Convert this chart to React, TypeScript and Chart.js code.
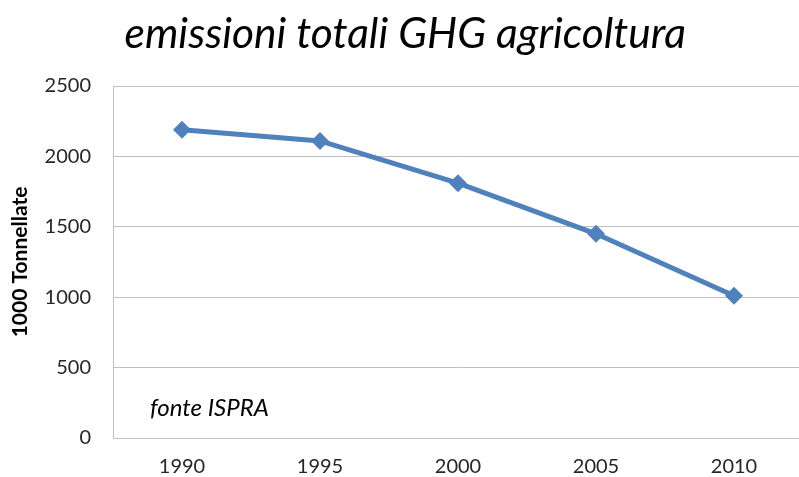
import React, { useEffect, useRef } from "react";
import { Chart, registerables } from "chart.js";

Chart.register(...registerables);

const years = ["1990", "1995", "2000", "2005", "2010"];
const emissions = [2190, 2110, 1810, 1450, 1010];
const yMin = 0;
const yMax = 2500;
const yStep = 500;
const titleText = "emissioni totali GHG agricoltura";
const yTitle = "1000 Tonnellate";
const noteText = "fonte ISPRA";

const notePlugin = {
  id: "notePlugin",
  afterDraw(chart: any) {
    const { ctx, chartArea } = chart;
    ctx.save();
    ctx.font = "italic 24px Lato";
    ctx.fillStyle = "#000000";
    ctx.textBaseline = "middle";
    ctx.textAlign = "left";
    ctx.fillText(noteText, chartArea.left + 37, chartArea.top + (chartArea.bottom - chartArea.top) * 0.915);
    ctx.restore();
  },
};

export default function App() {
  const ref = useRef<HTMLCanvasElement | null>(null);
  useEffect(() => {
    if (!ref.current) return;
    const chart = new Chart(ref.current, {
      type: "line",
      data: {
        labels: years,
        datasets: [
          {
            data: emissions,
            borderColor: "#4F81BD",
            backgroundColor: "#4F81BD",
            borderWidth: 5,
            pointStyle: "rectRot",
            pointRadius: 9,
            pointHoverRadius: 9,
            pointBorderWidth: 0,
            tension: 0,
          },
        ],
      },
      options: {
        responsive: false,
        animation: false,
        layout: { padding: { left: 0, right: 1.5, top: 0, bottom: 0 } },
        plugins: {
          legend: { display: false },
          tooltip: { enabled: false },
          title: {
            display: true,
            text: titleText,
            color: "#000000",
            font: { family: "Lato", size: 42.5, style: "italic", weight: "normal" },
            padding: { top: 9, bottom: 26 },
          },
        },
        scales: {
          x: {
            type: "category",
            offset: true,
            grid: { display: false, drawTicks: false },
            border: { display: true, color: "#BFBFBF", width: 1 },
            ticks: {
              color: "#262626",
              font: { family: "Lato", size: 20 },
              padding: 17,
              maxRotation: 0,
            },
            afterFit(scale: any) {
              scale.height = 39;
            },
          },
          y: {
            min: yMin,
            max: yMax,
            grid: { color: "#BFBFBF", lineWidth: 1, drawTicks: false },
            border: { display: true, color: "#BFBFBF", width: 1 },
            ticks: {
              stepSize: yStep,
              color: "#262626",
              font: { family: "Lato", size: 20 },
              padding: 22,
              callback: (v: any) => String(v),
            },
            title: {
              display: true,
              text: yTitle,
              color: "#000000",
              font: { family: "Lato", size: 21, weight: "bold" },
              padding: { top: 8, bottom: 0 },
            },
            afterFit(scale: any) {
              scale.width = 113;
            },
          },
        },
      },
      plugins: [notePlugin],
    });
    return () => chart.destroy();
  }, []);
  return (
    <div style={{ position: "fixed", left: 0, top: 0, width: 799, height: 477, overflow: "hidden", background: "#fff" }}>
      <canvas ref={ref} width={812} height={477} style={{ display: "block" }} />
    </div>
  );
}
